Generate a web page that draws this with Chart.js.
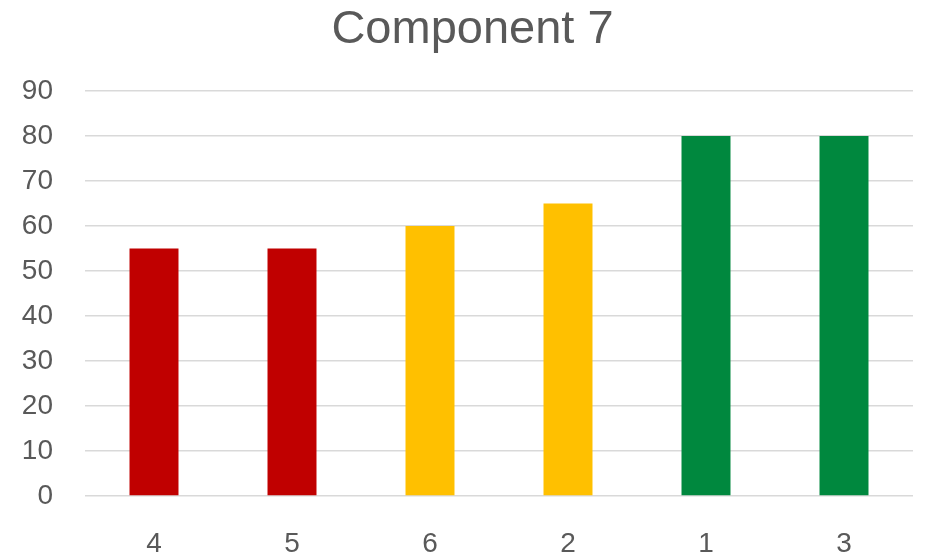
<!DOCTYPE html>
<html>
<head>
<meta charset="utf-8">
<script src="https://cdn.jsdelivr.net/npm/chart.js@4/dist/chart.umd.min.js"></script>
<style>
  html, body { margin: 0; padding: 0; background: #fff; }
  #wrap { width: 928px; height: 552px; }
</style>
</head>
<body>
<div id="wrap"><canvas id="c" width="928" height="552"></canvas></div>
<script>
const categories = ['4', '5', '6', '2', '1', '3'];
const values = [55, 55, 60, 65, 80, 80];
const barColors = ['#C00000', '#C00000', '#FFC000', '#FFC000', '#00883E', '#00883E'];
const yTicks = [0, 10, 20, 30, 40, 50, 60, 70, 80, 90];

const fontFamily = '"Liberation Sans", Arial, sans-serif';

// Centre the title over the region between the tick labels and the right edge.
const titleShift = {
  id: 'titleShift',
  afterLayout(chart) {
    if (chart.titleBlock) chart.titleBlock.left = 32;
  }
};

new Chart(document.getElementById('c'), {
  type: 'bar',
  data: {
    labels: categories,
    datasets: [{
      data: values,
      backgroundColor: barColors,
      borderWidth: 0,
      categoryPercentage: 1,
      barPercentage: 0.355
    }]
  },
  plugins: [titleShift],
  options: {
    responsive: false,
    animation: false,
    devicePixelRatio: 1,
    layout: { padding: { left: 0, right: 15, top: 0, bottom: 0 } },
    plugins: {
      legend: { display: false },
      tooltip: { enabled: false },
      title: {
        display: true,
        text: 'Component 7',
        color: '#595959',
        font: { family: fontFamily, size: 47, weight: 'normal', lineHeight: 1.2 },
        padding: { top: 2, bottom: 32.6 }
      }
    },
    scales: {
      x: {
        grid: { display: false },
        border: { display: false },
        ticks: {
          color: '#595959',
          font: { family: fontFamily, size: 28 },
          padding: 23
        },
        afterFit: (s) => { s.height = 56; }
      },
      y: {
        min: 0,
        max: 90,
        afterBuildTicks: (s) => { s.ticks = yTicks.map(v => ({ value: v })); },
        grid: { color: '#D9D9D9', lineWidth: 1.5, drawTicks: false },
        border: { display: false },
        ticks: {
          color: '#595959',
          font: { family: fontFamily, size: 28 },
          padding: 32
        },
        afterFit: (s) => { s.width = 85; }
      }
    }
  }
});
</script>
</body>
</html>
